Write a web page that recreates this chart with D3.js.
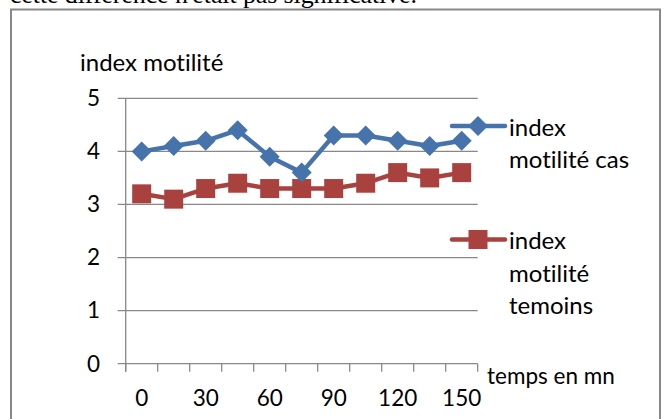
<!DOCTYPE html>
<html lang="fr">
<head>
	<meta charset="utf-8">
	<title>index motilité</title>
	<script src="https://d3js.org/d3.v7.min.js"></script>
	<style>
		body { margin: 0; background: #fff; }
		svg { display: block; }
		text { font-variant-ligatures: none; }
	</style>
</head>
<body>
	<div id="chart"></div>
	<script>
		// data
		var temps = [0, 15, 30, 45, 60, 75, 90, 105, 120, 135, 150];
		var motiliteCas = [4.0, 4.1, 4.2, 4.4, 3.9, 3.6, 4.3, 4.3, 4.2, 4.1, 4.2];
		var motiliteTemoins = [3.2, 3.1, 3.3, 3.4, 3.3, 3.3, 3.3, 3.4, 3.6, 3.5, 3.6];
		var yTicks = [0, 1, 2, 3, 4, 5];
		var xLabels = [0, 30, 60, 90, 120, 150];
		var seriesNames = ["index motilité cas", "index motilité temoins"];

		var width = 668;
		var height = 419;
		var font = "Lato, 'Open Sans', sans-serif";
		var blue = "#4673ab";
		var red = "#a9423f";
		var grid = "#888888";

		var svg = d3.select("#chart").append("svg")
					.attr("width", width)
					.attr("height", height);

		// line of the document sitting above the chart (cut at the top)
		svg.append("text")
			.attr("x", 10)
			.attr("y", 3)
			.attr("font-family", "'Liberation Serif', serif")
			.attr("font-size", 26)
			.attr("textLength", 407)
			.text("cette différence n'était pas significative.");

		// chart frame
		svg.append("rect")
			.attr("x", 11)
			.attr("y", 9.5)
			.attr("width", 649)
			.attr("height", 430)
			.attr("fill", "none")
			.attr("stroke", grid)
			.attr("stroke-width", 2);

		var x = d3.scaleBand()
					.domain(temps)
					.range([125.7, 477.7]);
		var y = d3.scaleLinear()
					.domain([0, 5])
					.range([363.7, 98.3]);

		// horizontal gridlines + left ticks
		svg.append("g")
			.selectAll("line")
			.data(yTicks)
			.enter().append("line")
				.attr("x1", 117.7)
				.attr("x2", 477.7)
				.attr("y1", function(d) { return y(d); })
				.attr("y2", function(d) { return y(d); })
				.attr("stroke", grid)
				.attr("stroke-width", 1.3);
		svg.append("g")
			.selectAll("text")
			.data(yTicks)
			.enter().append("text")
				.attr("x", 100)
				.attr("y", function(d) { return y(d); })
				.attr("dy", "0.35em")
				.attr("text-anchor", "end")
				.attr("font-family", font)
				.attr("font-size", 22.5)
				.text(function(d) { return d; });

		// vertical axis line
		svg.append("line")
			.attr("x1", x.range()[0])
			.attr("x2", x.range()[0])
			.attr("y1", y(5))
			.attr("y2", y(0) + 8)
			.attr("stroke", grid)
			.attr("stroke-width", 1.3);

		// x ticks on the band edges
		var edges = temps.map(function(d) { return x(d); }).concat([x.range()[1]]);
		svg.append("g")
			.selectAll("line")
			.data(edges)
			.enter().append("line")
				.attr("x1", function(d) { return d; })
				.attr("x2", function(d) { return d; })
				.attr("y1", y(0))
				.attr("y2", y(0) + 8)
				.attr("stroke", grid)
				.attr("stroke-width", 1.3);
		svg.append("g")
			.selectAll("text")
			.data(xLabels)
			.enter().append("text")
				.attr("x", function(d) { return x(d) + x.bandwidth() / 2; })
				.attr("y", 398.5)
				.attr("dy", "0.35em")
				.attr("text-anchor", "middle")
				.attr("font-family", font)
				.attr("font-size", 22.5)
				.text(function(d) { return d; });

		// axis titles
		svg.append("text")
			.attr("x", 80)
			.attr("y", 71)
			.attr("font-family", font)
			.attr("font-size", 24)
			.text("index motilité");
		svg.append("text")
			.attr("x", 487)
			.attr("y", 384.3)
			.attr("font-family", font)
			.attr("font-size", 22.5)
			.text("temps en mn");

		var line = d3.line()
					.x(function(d, i) { return x(temps[i]) + x.bandwidth() / 2; })
					.y(function(d) { return y(d); });

		function diamond(g, cx, cy, color) {
			g.append("path")
				.attr("d", "M" + cx + "," + (cy - 10) + "L" + (cx + 10) + "," + cy + "L" + cx + "," + (cy + 10) + "L" + (cx - 10) + "," + cy + "Z")
				.attr("fill", color);
		}
		function square(g, cx, cy, color) {
			g.append("rect")
				.attr("x", cx - 9.5)
				.attr("y", cy - 9.5)
				.attr("width", 19)
				.attr("height", 19)
				.attr("fill", color);
		}

		// red series
		svg.append("path")
			.datum(motiliteTemoins)
			.attr("fill", "none")
			.attr("stroke", red)
			.attr("stroke-width", 4.5)
			.attr("stroke-linejoin", "round")
			.attr("d", line);
		var redMarks = svg.append("g");
		motiliteTemoins.forEach(function(d, i) {
			square(redMarks, x(temps[i]) + x.bandwidth() / 2, y(d), red);
		});

		// blue series
		svg.append("path")
			.datum(motiliteCas)
			.attr("fill", "none")
			.attr("stroke", blue)
			.attr("stroke-width", 4.5)
			.attr("stroke-linejoin", "round")
			.attr("d", line);
		var blueMarks = svg.append("g");
		motiliteCas.forEach(function(d, i) {
			diamond(blueMarks, x(temps[i]) + x.bandwidth() / 2, y(d), blue);
		});

		// legend
		var legend = svg.append("g");
		var legendItems = [
			{ name: seriesNames[0], color: blue, y: 126, lines: ["index", "motilité cas"] },
			{ name: seriesNames[1], color: red, y: 239.5, lines: ["index", "motilité", "temoins"] }
		];
		legendItems.forEach(function(item, k) {
			legend.append("line")
				.attr("x1", 452)
				.attr("x2", 505)
				.attr("y1", item.y)
				.attr("y2", item.y)
				.attr("stroke", item.color)
				.attr("stroke-width", 4.5)
				.attr("stroke-linecap", "round");
			if (k == 0) diamond(legend, 478, item.y, item.color);
			else square(legend, 478, item.y, item.color);
			item.lines.forEach(function(t, j) {
				legend.append("text")
					.attr("x", 509)
					.attr("y", item.y + 9.7 + j * 32.5)
					.attr("font-family", font)
					.attr("font-size", 24)
					.text(t);
			});
		});
	</script>
</body>
</html>
